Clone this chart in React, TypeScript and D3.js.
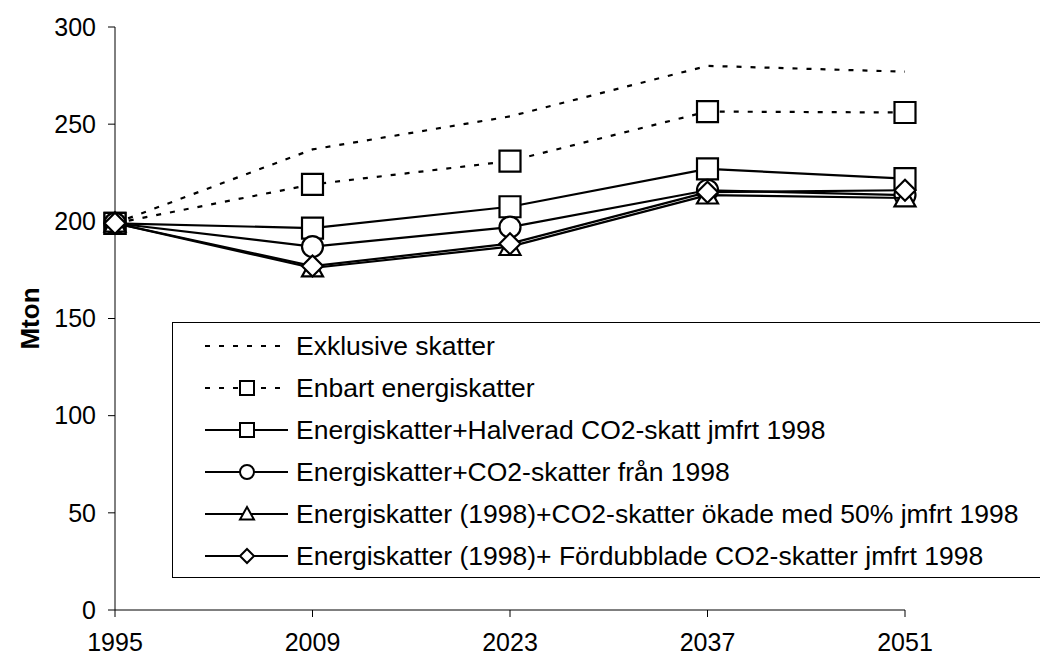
import React from "react";
import * as d3 from "d3";

const years = [1995, 2009, 2023, 2037, 2051];
const yTicks = [0, 50, 100, 150, 200, 250, 300];

const exklusive = [199, 237, 254, 280, 277];
const enbart = [199, 219, 231, 256.5, 256];
const halverad = [199, 196.5, 207.5, 227, 222];
const fran = [199, 187, 197, 216, 213.5];
const okade = [199, 176, 187, 213.5, 212];
const fordubblade = [199, 177, 188.5, 215, 216];

const seriesNames = [
  "Exklusive skatter",
  "Enbart energiskatter",
  "Energiskatter+Halverad CO2-skatt jmfrt 1998",
  "Energiskatter+CO2-skatter från 1998",
  "Energiskatter (1998)+CO2-skatter ökade med 50% jmfrt 1998",
  "Energiskatter (1998)+ Fördubblade CO2-skatter jmfrt 1998",
];

type Marker = "none" | "square" | "circle" | "triangle" | "diamond";
const seriesValues = [exklusive, enbart, halverad, fran, okade, fordubblade];
const seriesMarkers: Marker[] = ["none", "square", "square", "circle", "triangle", "diamond"];
const seriesDashed = [true, true, false, false, false, false];

const FONT = "'Liberation Sans', Arial, sans-serif";

function markerPath(m: Marker, s: number): string {
  const h = s / 2;
  if (m === "square") return `M${-h},${-h}H${h}V${h}H${-h}Z`;
  if (m === "circle") return `M${-h},0A${h},${h} 0 1,0 ${h},0A${h},${h} 0 1,0 ${-h},0Z`;
  if (m === "triangle") return `M0,${-h}L${h},${h * 0.8}H${-h}Z`;
  if (m === "diamond") return `M0,${-h}L${h},0L0,${h}L${-h},0Z`;
  return "";
}

export default function App() {
  const W = 1040, H = 656;
  const x = d3.scalePoint<number>().domain(years).range([115, 905]);
  const y = d3.scaleLinear().domain([0, 300]).range([610, 27]);
  const line = d3.line<number>()
    .x((_, i) => x(years[i]) as number)
    .y((d) => y(d));

  const legendX = 172.5, legendY = 322.5, legendH = 255;
  const rowY = (i: number) => 346 + i * 42;

  return (
    <svg width={W} height={H} style={{ position: "absolute", left: 0, top: 0, background: "#fff" }}>
      <rect x={0} y={0} width={W} height={H} fill="#fff" />
      {/* axes */}
      <line x1={115} x2={115} y1={y(300)} y2={y(0)} stroke="#000" strokeWidth={1} />
      <line x1={115} x2={905} y1={y(0)} y2={y(0)} stroke="#000" strokeWidth={1} />
      {yTicks.map((t) => (
        <g key={t}>
          <line x1={108} x2={115} y1={y(t)} y2={y(t)} stroke="#000" />
          <text x={96} y={y(t)} dy="0.35em" textAnchor="end" fontFamily={FONT} fontSize={25}>{t}</text>
        </g>
      ))}
      {years.map((yr) => (
        <g key={yr}>
          <line x1={x(yr)} x2={x(yr)} y1={610} y2={617} stroke="#000" />
          <text x={x(yr)} y={642} dy="0.35em" textAnchor="middle" fontFamily={FONT} fontSize={25}>{yr}</text>
        </g>
      ))}
      <text transform={`translate(30,${y(150)}) rotate(-90)`} textAnchor="middle" dy="0.35em"
        fontFamily={FONT} fontSize={26} fontWeight="bold">Mton</text>

      {/* series */}
      {seriesValues.map((vals, si) => (
        <g key={si}>
          <path d={line(vals) || ""} fill="none" stroke="#000" strokeWidth={2.2}
            strokeDasharray={seriesDashed[si] ? "5,9" : undefined} />
          {seriesMarkers[si] !== "none" && vals.map((v, i) => (
            <path key={i} transform={`translate(${x(years[i])},${y(v)})`}
              d={markerPath(seriesMarkers[si], 21)} fill="#fff" stroke="#000" strokeWidth={2.2} />
          ))}
        </g>
      ))}

      {/* legend */}
      <rect x={legendX} y={legendY} width={W - legendX + 10} height={legendH} fill="#fff" stroke="#000" strokeWidth={1} />
      {seriesNames.map((name, i) => (
        <g key={name}>
          <line x1={205} x2={288} y1={rowY(i)} y2={rowY(i)} stroke="#000" strokeWidth={2}
            strokeDasharray={seriesDashed[i] ? "5,9" : undefined} />
          {seriesMarkers[i] !== "none" && (
            <path transform={`translate(247,${rowY(i)})`} d={markerPath(seriesMarkers[i], 14)}
              fill="#fff" stroke="#000" strokeWidth={2} />
          )}
          <text x={296} y={rowY(i)} dy="0.35em" fontFamily={FONT} fontSize={26.5}>{name}</text>
        </g>
      ))}
    </svg>
  );
}
